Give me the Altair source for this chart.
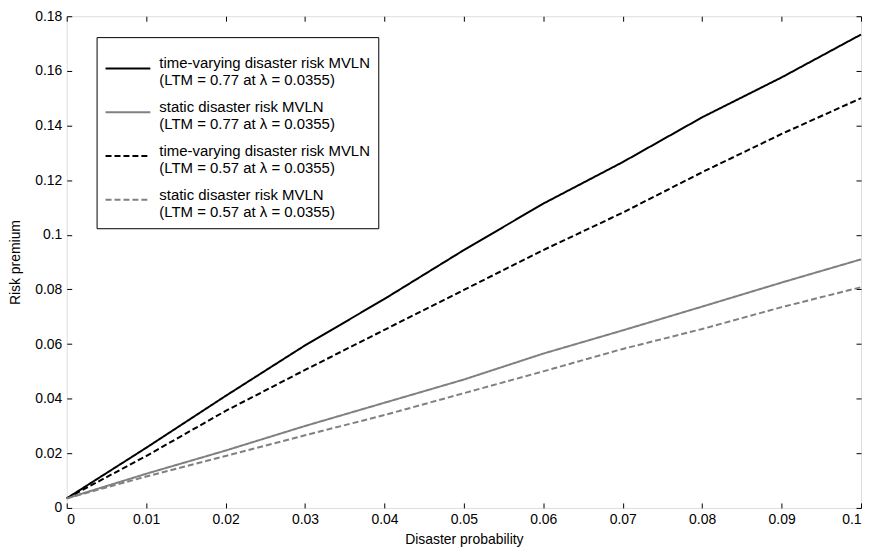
import altair as alt
import pandas as pd

# ---- data ----
x_vals = [0.0, 0.01, 0.02, 0.03, 0.04, 0.05, 0.06, 0.07, 0.08, 0.09, 0.1]
tv_077 = [0.0035, 0.022, 0.041, 0.0595, 0.0765, 0.0944, 0.1114, 0.1266, 0.143, 0.1576, 0.1733]
st_077 = [0.0035, 0.0125, 0.021, 0.030, 0.0385, 0.047, 0.0565, 0.065, 0.0737, 0.0825, 0.091]
tv_057 = [0.0035, 0.019, 0.0355, 0.0505, 0.0652, 0.0798, 0.0944, 0.1081, 0.1229, 0.1369, 0.150]
st_057 = [0.0035, 0.0115, 0.019, 0.0266, 0.034, 0.042, 0.050, 0.0582, 0.0655, 0.0735, 0.0808]

labels = [
    "time-varying disaster risk MVLN|(LTM = 0.77 at λ = 0.0355)",
    "static disaster risk MVLN|(LTM = 0.77 at λ = 0.0355)",
    "time-varying disaster risk MVLN|(LTM = 0.57 at λ = 0.0355)",
    "static disaster risk MVLN|(LTM = 0.57 at λ = 0.0355)",
]
colors = ["#000000", "#808080", "#000000", "#808080"]
dashes = [[1, 0], [1, 0], [6, 3], [6, 3]]

x_ticks = [0, 0.01, 0.02, 0.03, 0.04, 0.05, 0.06, 0.07, 0.08, 0.09, 0.1]
y_ticks = [0, 0.02, 0.04, 0.06, 0.08, 0.1, 0.12, 0.14, 0.16, 0.18]

rows = []
for lab, series in zip(labels, [tv_077, st_077, tv_057, st_057]):
    for i, (xv, yv) in enumerate(zip(x_vals, series)):
        rows.append({"p": xv, "v": yv, "series": lab, "order": i})
df = pd.DataFrame(rows)

FONT = "Liberation Sans"

xscale = alt.Scale(domain=[0, 0.1], nice=False, zero=False)
yscale = alt.Scale(domain=[0, 0.18], nice=False, zero=False)

legend = alt.Legend(
    title=None, orient="none", legendX=30, legendY=21,
    labelExpr="split(datum.label, '|')",
    labelFont=FONT, labelFontSize=15, labelColor="black", labelLimit=400,
    labelOffset=8, labelBaseline="alphabetic",
    symbolType="stroke", symbolSize=2025, symbolStrokeWidth=2,
    strokeColor="black", fillColor="white", padding=8, rowPadding=-9,
)

base_axis = dict(
    labelFont=FONT, labelFontSize=14, labelColor="black",
    titleFont=FONT, titleFontSize=14, titleColor="black", titleFontWeight="normal",
    tickColor="black", tickSize=5, domain=False, grid=False, offset=-5,
)

lines = alt.Chart(df).mark_line(strokeWidth=2).encode(
    x=alt.X("p:Q", scale=xscale,
            axis=alt.Axis(values=x_ticks, format="~g", title="Disaster probability",
                          labelPadding=5, titlePadding=6, **base_axis)),
    y=alt.Y("v:Q", scale=yscale,
            axis=alt.Axis(values=y_ticks, format="~g", title="Risk premium",
                          labelPadding=5, titlePadding=12, **base_axis)),
    color=alt.Color("series:N", scale=alt.Scale(domain=labels, range=colors), legend=legend),
    strokeDash=alt.StrokeDash("series:N", scale=alt.Scale(domain=labels, range=dashes), legend=legend),
    order="order:Q",
)

ticks = alt.Chart(df).mark_line(opacity=0).encode(
    x=alt.X("p:Q", scale=xscale,
            axis=alt.Axis(orient="top", values=x_ticks, labels=False, title=None,
                          tickColor="black", tickSize=5, domain=False, grid=False, offset=-5)),
    y=alt.Y("v:Q", scale=yscale,
            axis=alt.Axis(orient="right", values=y_ticks, labels=False, title=None,
                          tickColor="black", tickSize=5, domain=False, grid=False, offset=-5)),
    detail="series:N",
    order="order:Q",
)

chart = alt.layer(lines, ticks).resolve_axis(x="independent", y="independent").properties(
    width=798, height=494,
    autosize=alt.AutoSizeParams(type="none"),
    padding={"left": 59, "top": 7, "right": 5, "bottom": 40},
).configure_view(stroke="black", strokeWidth=1).configure(background="white")

chart.save("out.html", embed_options={"renderer": "svg", "actions": False})
